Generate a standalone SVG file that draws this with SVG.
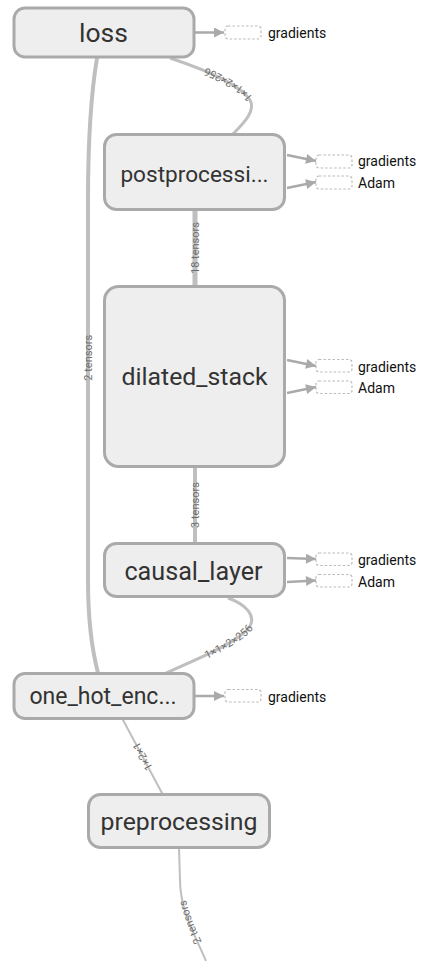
<svg xmlns="http://www.w3.org/2000/svg" width="445" height="961" viewBox="0 0 445 961">
<style>
.node rect.box{fill:#eeeeee;stroke:#aaaaaa;stroke-width:3}
.node text.nlabel{font-family:Roboto,"Liberation Sans",sans-serif;fill:#333333;text-anchor:middle}
.edge{fill:none;stroke:#bfbfbf}
.elabel{font-family:Roboto,"Liberation Sans",sans-serif;font-size:11px;fill:#6e6e6e}
.stubline{fill:none;stroke:#aaaaaa;stroke-width:2.5}
.stub{fill:#ffffff;stroke:#bbbbbb;stroke-width:1.2;stroke-dasharray:2.5,2}
.node text.stubtext{font-family:Roboto,"Liberation Sans",sans-serif;font-size:14px;fill:#111111;text-anchor:start}
</style>
<defs>
<marker id="arr" viewBox="0 0 10 10" refX="10" refY="5" markerWidth="11" markerHeight="10" markerUnits="userSpaceOnUse" orient="auto">
<path d="M0,0 L10,5 L0,10 z" fill="#aaaaaa"/>
</marker>
<path id="pA" d="M233,134 C 245,122 256,110 250,100 C 240,84 200,68 170,58"/>
<path id="pB" d="M166,673 C 195,660 240,642 250,626 C 256,615 245,604 228,598"/>
<path id="pC" d="M163,795 L122,718"/>
<path id="pD" d="M206,961 C 195,935 180,910 180,880 L179,848"/>
<path id="pE" d="M98,673 C 92,650 88,620 88,580 L88,200 C 88,150 90,100 97,58"/>
<path id="pF" d="M195,286 L195,210"/>
<path id="pG" d="M195,543 L195,467"/>
</defs>
<g id="connectors">
<use href="#pA" class="edge" stroke-width="3"/>
<use href="#pB" class="edge" stroke-width="3"/>
<use href="#pC" class="edge" stroke-width="2"/>
<use href="#pD" class="edge" stroke-width="2"/>
<use href="#pE" class="edge" stroke-width="4"/>
<use href="#pF" class="edge" stroke-width="5"/>
<use href="#pG" class="edge" stroke-width="4"/>
<text class="elabel" dy="3.8"><textPath href="#pA" startOffset="68" text-anchor="middle">1×1×2×256</textPath></text>
<text class="elabel" dy="3.8"><textPath href="#pB" startOffset="70" text-anchor="middle">1×1×2×256</textPath></text>
<text class="elabel" dy="3.8"><textPath href="#pC" startOffset="50%" text-anchor="middle">1×2×1</textPath></text>
<text class="elabel" dy="3.8"><textPath href="#pD" startOffset="42" text-anchor="middle">2 tensors</textPath></text>
<text class="elabel" dy="3.8"><textPath href="#pE" startOffset="316" text-anchor="middle">2 tensors</textPath></text>
<text class="elabel" dy="3.8"><textPath href="#pF" startOffset="50%" text-anchor="middle">18 tensors</textPath></text>
<text class="elabel" dy="3.8"><textPath href="#pG" startOffset="50%" text-anchor="middle">3 tensors</textPath></text>
</g>
<g id="loss" class="node">
<rect class="box" x="14" y="8" width="180" height="49" rx="11"/>
<text class="nlabel" x="103.5" y="42" font-size="26.5">loss</text>
<path class="stubline" d="M195,32.5 L224,32.5" marker-end="url(#arr)"/>
<rect class="stub" x="225" y="26" width="36" height="13" rx="3"/>
<text class="stubtext" x="268" y="38">gradients</text>
</g>
<g id="postprocessing" class="node">
<rect class="box" x="104.5" y="134.5" width="180" height="75" rx="12"/>
<text class="nlabel" x="194.5" y="182" font-size="22.6">postprocessi...</text>
<path class="stubline" d="M287,155 L316,161" marker-end="url(#arr)"/>
<rect class="stub" x="316" y="155" width="36" height="13" rx="3"/>
<text class="stubtext" x="358" y="166">gradients</text>
<path class="stubline" d="M287,188 L316,182" marker-end="url(#arr)"/>
<rect class="stub" x="316" y="176" width="36" height="13" rx="3"/>
<text class="stubtext" x="358" y="188">Adam</text>
</g>
<g id="dilated_stack" class="node">
<rect class="box" x="104.5" y="286.5" width="180" height="180" rx="14"/>
<text class="nlabel" x="194.5" y="385" font-size="24.8">dilated_stack</text>
<path class="stubline" d="M287,360 L316,366" marker-end="url(#arr)"/>
<rect class="stub" x="316" y="359.5" width="36" height="12.5" rx="3"/>
<text class="stubtext" x="358" y="372">gradients</text>
<path class="stubline" d="M287,393 L316,387" marker-end="url(#arr)"/>
<rect class="stub" x="316" y="381" width="36" height="12.5" rx="3"/>
<text class="stubtext" x="358" y="393">Adam</text>
</g>
<g id="causal_layer" class="node">
<rect class="box" x="104.5" y="543.5" width="180" height="53" rx="12"/>
<text class="nlabel" x="193.5" y="580" font-size="25.2">causal_layer</text>
<path class="stubline" d="M287,558 L316,559" marker-end="url(#arr)"/>
<rect class="stub" x="316" y="553" width="36" height="12.5" rx="3"/>
<text class="stubtext" x="358" y="565">gradients</text>
<path class="stubline" d="M287,582 L316,580.5" marker-end="url(#arr)"/>
<rect class="stub" x="316" y="574.5" width="36" height="12.5" rx="3"/>
<text class="stubtext" x="358" y="587">Adam</text>
</g>
<g id="one_hot_encoding" class="node">
<rect class="box" x="14" y="673.5" width="180" height="45" rx="11"/>
<text class="nlabel" x="103" y="704" font-size="23">one_hot_enc...</text>
<path class="stubline" d="M195,696 L224,696" marker-end="url(#arr)"/>
<rect class="stub" x="225" y="689.5" width="36" height="12.5" rx="3"/>
<text class="stubtext" x="268" y="701.5">gradients</text>
</g>
<g id="preprocessing" class="node">
<rect class="box" x="88.5" y="794.5" width="181" height="53" rx="12"/>
<text class="nlabel" x="179" y="830" font-size="24.8">preprocessing</text>
</g>
</svg>
